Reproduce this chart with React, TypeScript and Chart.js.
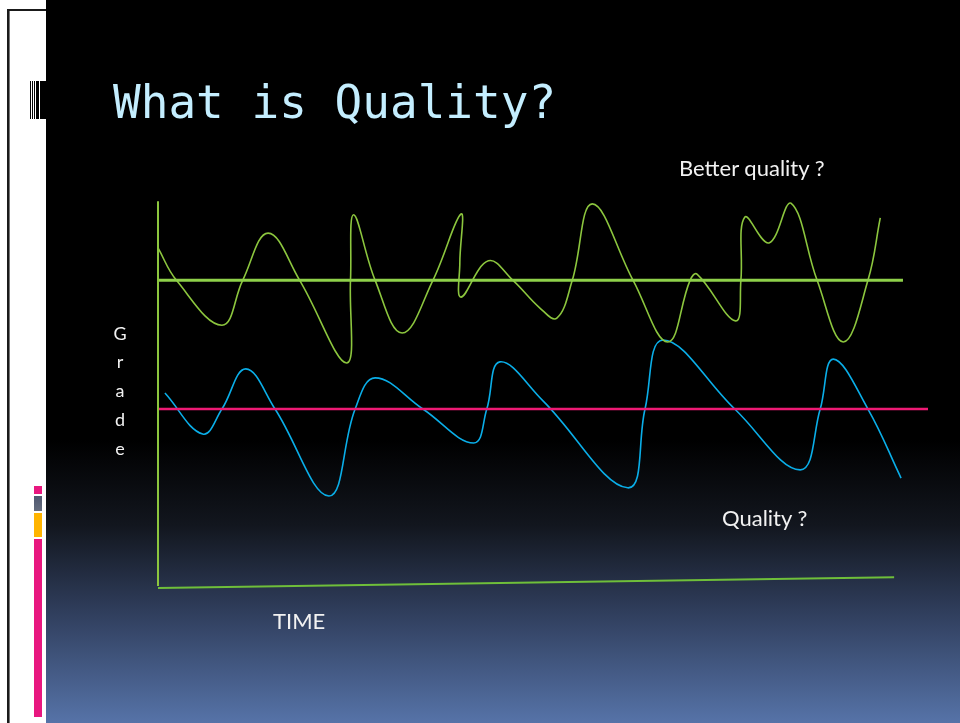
import React, { useEffect, useRef } from "react";
import { Chart, registerables } from "chart.js";

Chart.register(...registerables);

// Time runs 0–100 across the plot, Grade runs 0–100 from bottom to top.
const betterTime = [0, 2.4, 8.3, 11.0, 14.3, 18.4, 24.5, 25.0, 25.4, 28.2, 31.7, 35.7, 39.35, 39.2, 39.35, 42.9, 46.1, 49.6, 51.8, 53.8, 56.4, 61.7, 66.2, 69.1, 70.0, 75.0, 75.7, 76.2, 79.35, 82.2, 85.6, 89.0, 92.2, 93.8];
const betterGrade = [87.7, 79.4, 67.9, 79.4, 91.5, 79.4, 58.2, 79.4, 96.2, 79.4, 65.9, 79.4, 96.4, 84.0, 75.1, 84.4, 79.4, 72.3, 69.7, 79.4, 99.0, 79.4, 63.6, 79.4, 81.0, 69.0, 79.4, 95.6, 89.0, 99.2, 79.4, 63.6, 79.4, 95.4];

const qualityTime = [0.9, 5.8, 8.3, 11.4, 15.2, 22.2, 25.6, 28.2, 34.4, 41.0, 42.7, 44.4, 50.0, 61.0, 63.25, 65.6, 74.9, 83.4, 86.0, 87.7, 92.2, 96.5];
const qualityGrade = [50.5, 40.0, 46.4, 56.7, 46.4, 24.1, 46.4, 54.4, 46.4, 37.7, 46.4, 58.5, 48.5, 26.2, 46.4, 64.1, 46.4, 30.8, 46.4, 59.2, 46.4, 28.7];

const betterTargetTime = [0, 96.75];
const betterTargetGrade = [79.4, 79.4];
const qualityTargetTime = [0, 100];
const qualityTargetGrade = [46.4, 46.4];
const gradeAxisTime = [0, 0];
const gradeAxisGrade = [99.7, 1.0];
const timeAxisTime = [0, 95.6];
const timeAxisGrade = [0.5, 3.3];

const titleText = "What is Quality?";
const betterLabel = "Better quality ?";
const qualityLabel = "Quality ?";
const timeLabel = "TIME";
const gradeLetters = ["G", "r", "a", "d", "e"];

const pts = (xs: number[], ys: number[]) => xs.map((x, i) => ({ x, y: ys[i] }));

export default function App() {
  const ref = useRef<HTMLCanvasElement | null>(null);

  useEffect(() => {
    if (!ref.current) return;
    const chart = new Chart(ref.current, {
      type: "line",
      data: {
        datasets: [
          { data: pts(gradeAxisTime, gradeAxisGrade), borderColor: "#8cc63e", borderWidth: 2, tension: 0 },
          { data: pts(timeAxisTime, timeAxisGrade), borderColor: "#6fbf3a", borderWidth: 2, tension: 0 },
          { data: pts(betterTargetTime, betterTargetGrade), borderColor: "#8ed04a", borderWidth: 3, tension: 0 },
          { data: pts(qualityTargetTime, qualityTargetGrade), borderColor: "#ee1a74", borderWidth: 2.5, tension: 0 },
          { data: pts(betterTime, betterGrade), borderColor: "#8cc63e", borderWidth: 1.6, tension: 0.4 },
          { data: pts(qualityTime, qualityGrade), borderColor: "#0aaee8", borderWidth: 1.6, tension: 0.4 },
        ],
      },
      options: {
        animation: false,
        responsive: false,
        events: [],
        layout: { padding: { left: 158, right: 32, top: 200, bottom: 133 } },
        elements: { point: { radius: 0 }, line: { fill: false } },
        datasets: { line: { clip: false as any } },
        plugins: { legend: { display: false }, tooltip: { enabled: false }, title: { display: false } },
        scales: {
          x: { type: "linear", min: 0, max: 100, display: false },
          y: { type: "linear", min: 0, max: 100, display: false },
        },
      },
    });
    return () => chart.destroy();
  }, []);

  const textBase: React.CSSProperties = {
    position: "absolute",
    color: "#f2f2f2",
    fontFamily: "Lato, 'Open Sans', sans-serif",
    fontSize: 22,
    lineHeight: "22px",
    whiteSpace: "nowrap",
  };

  return (
    <div style={{ position: "fixed", left: 0, top: 0, width: 960, height: 723, overflow: "hidden", background: "#ffffff" }}>
      <div
        style={{
          position: "absolute",
          left: 46,
          top: 0,
          width: 914,
          height: 723,
          background:
            "linear-gradient(to bottom, #000000 0px, #000000 440px, #12161e 525px, #2f3d5b 610px, #5673a8 723px)",
        }}
      />
      {/* slide frame */}
      <div style={{ position: "absolute", left: 7, top: 9, width: 2, height: 714, background: "#1a1a1a", borderRight: "1px solid #777" }} />
      <div style={{ position: "absolute", left: 7, top: 9, width: 39, height: 2, background: "#1a1a1a" }} />
      {/* barcode mark */}
      <div style={{ position: "absolute", left: 30, top: 81, width: 1, height: 38, background: "#000" }} />
      <div style={{ position: "absolute", left: 32, top: 81, width: 1, height: 38, background: "#000" }} />
      <div style={{ position: "absolute", left: 34, top: 81, width: 1, height: 38, background: "#000" }} />
      <div style={{ position: "absolute", left: 36, top: 81, width: 3, height: 38, background: "#000" }} />
      <div style={{ position: "absolute", left: 40, top: 81, width: 6, height: 38, background: "#000" }} />
      {/* colour blocks */}
      <div style={{ position: "absolute", left: 34, top: 486, width: 8, height: 8, background: "#e8177f" }} />
      <div style={{ position: "absolute", left: 34, top: 496, width: 8, height: 15, background: "linear-gradient(#4f5870, #646c7e)" }} />
      <div style={{ position: "absolute", left: 34, top: 513, width: 8, height: 24, background: "#ffb400" }} />
      <div style={{ position: "absolute", left: 34, top: 539, width: 8, height: 178, background: "#e8177f" }} />

      <canvas ref={ref} width={960} height={723} style={{ position: "absolute", left: 0, top: 0, width: 960, height: 723 }} />

      <div
        style={{
          position: "absolute",
          left: 113,
          top: 79,
          color: "#c4eeff",
          fontFamily: "'DejaVu Sans Mono', 'Liberation Mono', monospace",
          fontSize: 46,
          lineHeight: "46px",
          whiteSpace: "pre",
        }}
      >
        {titleText}
      </div>
      <div style={{ ...textBase, left: 679, top: 156.5 }}>{betterLabel}</div>
      <div style={{ ...textBase, left: 722, top: 506.5 }}>{qualityLabel}</div>
      <div style={{ ...textBase, left: 273, top: 609.5 }}>{timeLabel}</div>
      <div style={{ ...textBase, left: 110, top: 318.6, width: 20, textAlign: "center", fontSize: 18, lineHeight: "28.8px" }}>
        {gradeLetters.map((l, i) => (
          <div key={i}>{l}</div>
        ))}
      </div>
    </div>
  );
}
